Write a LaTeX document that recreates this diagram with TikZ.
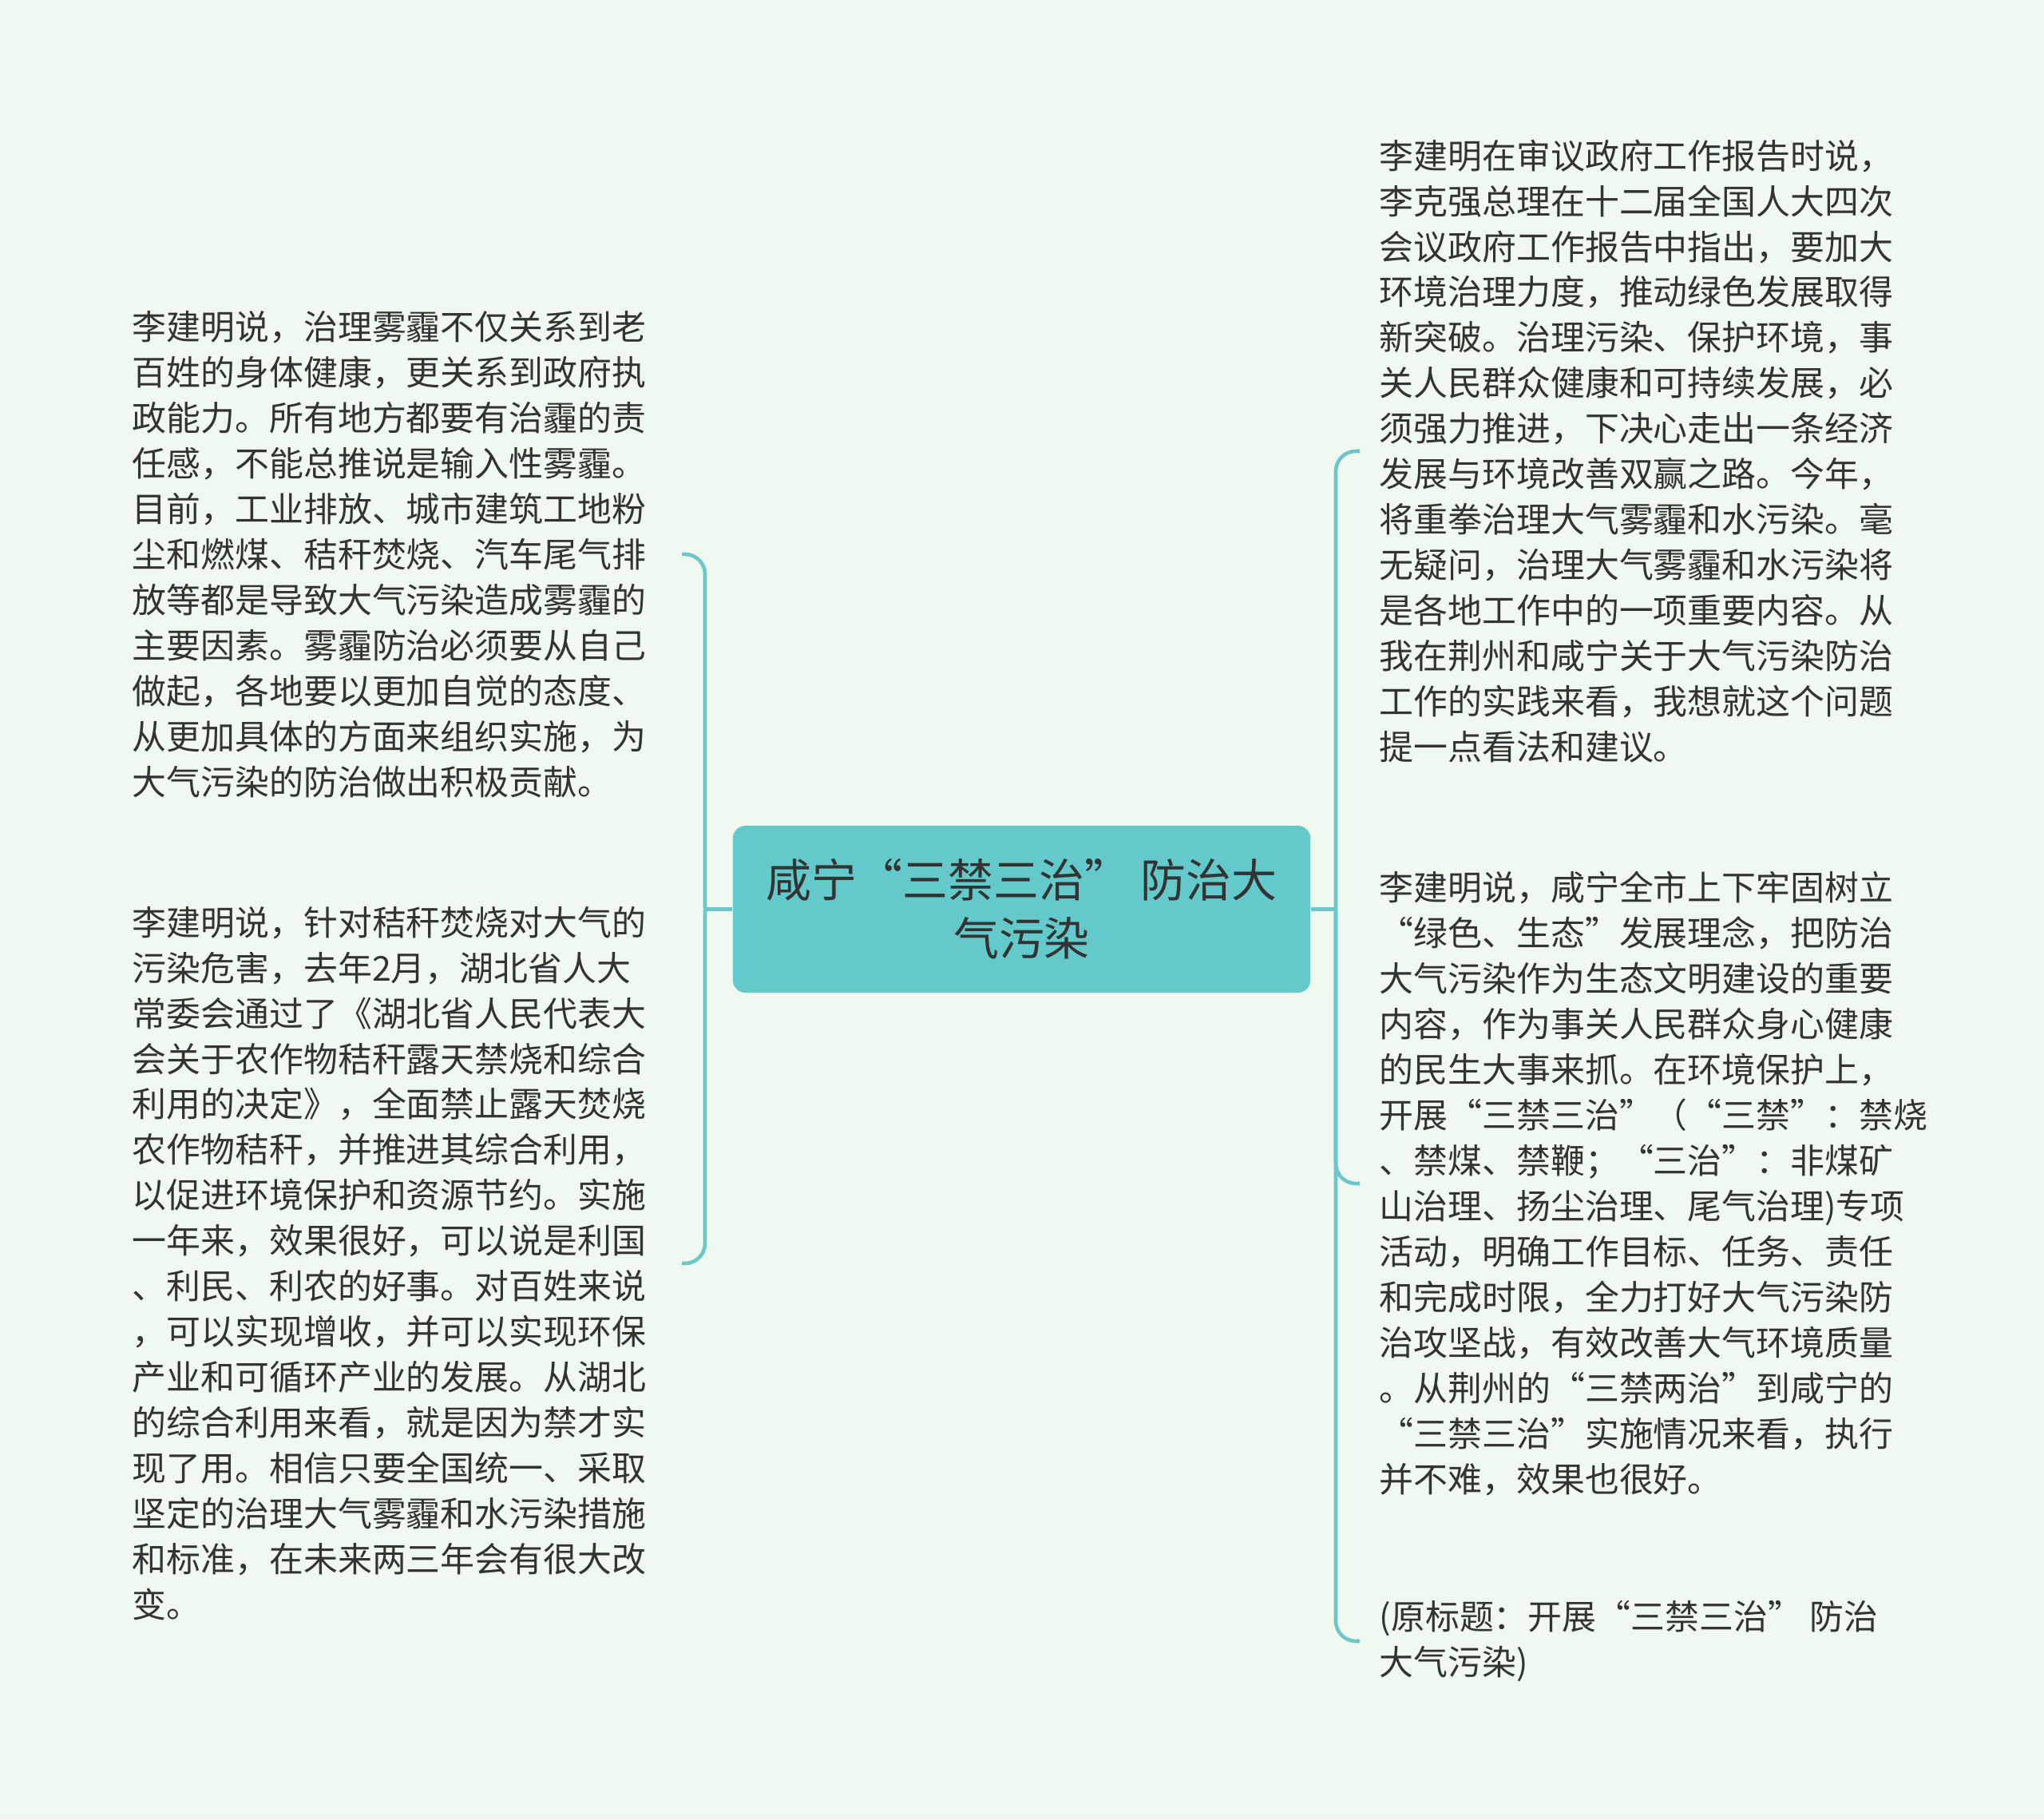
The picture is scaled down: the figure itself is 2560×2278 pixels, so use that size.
\documentclass[tikz,border=0pt]{standalone}
\usepackage{fontspec}
\setmainfont{Noto Sans CJK SC}
\usetikzlibrary{positioning, calc}
\definecolor{cbg}{HTML}{F0F9EF}
\definecolor{cteal}{HTML}{63C9CB}
\definecolor{cline}{HTML}{6CC6CA}
\definecolor{ctext}{HTML}{333333}
\tikzset{
  every picture/.style={x=0.01cm, y=-0.01cm},
  root/.style={fill=cteal, rounded corners=1.6mm, minimum width=7.23cm, minimum height=2.09cm, align=center, text=ctext, font=\fontsize{16.2pt}{20.8pt}\selectfont},
  leaf/.style={align=left, inner sep=0pt, text=ctext, font=\fontsize{12.2pt}{16.2pt}\selectfont},
  link/.style={draw=cline, line width=1.3pt, rounded corners=2.5mm},
}

\begin{document}
\begin{tikzpicture}
  \fill[cbg] (0,0) rectangle (2560,2278);
  \useasboundingbox (0,0) rectangle (2560,2278);
  % centre topic
  \node[root] (root) at (1279.5,1138.5) {咸宁“三禁三治” 防治大\\气污染};
  % left side
  \node[leaf, anchor=west] (l1) at (165,694) {李建明说，治理雾霾不仅关系到老\\百姓的身体健康，更关系到政府执\\政能力。所有地方都要有治霾的责\\任感，不能总推说是输入性雾霾。\\目前，工业排放、城市建筑工地粉\\尘和燃煤、秸秆焚烧、汽车尾气排\\放等都是导致大气污染造成雾霾的\\主要因素。雾霾防治必须要从自己\\做起，各地要以更加自觉的态度、\\从更加具体的方面来组织实施，为\\大气污染的防治做出积极贡献。};
  \node[leaf, anchor=west] (l2) at (165,1582) {李建明说，针对秸秆焚烧对大气的\\污染危害，去年2月，湖北省人大\\常委会通过了《湖北省人民代表大\\会关于农作物秸秆露天禁烧和综合\\利用的决定》，全面禁止露天焚烧\\农作物秸秆，并推进其综合利用，\\以促进环境保护和资源节约。实施\\一年来，效果很好，可以说是利国\\、利民、利农的好事。对百姓来说\\，可以实现增收，并可以实现环保\\产业和可循环产业的发展。从湖北\\的综合利用来看，就是因为禁才实\\现了用。相信只要全国统一、采取\\坚定的治理大气雾霾和水污染措施\\和标准，在未来两三年会有很大改\\变。};
  % right side
  \node[leaf, anchor=west] (r1) at (1727,565) {李建明在审议政府工作报告时说，\\李克强总理在十二届全国人大四次\\会议政府工作报告中指出，要加大\\环境治理力度，推动绿色发展取得\\新突破。治理污染、保护环境，事\\关人民群众健康和可持续发展，必\\须强力推进，下决心走出一条经济\\发展与环境改善双赢之路。今年，\\将重拳治理大气雾霾和水污染。毫\\无疑问，治理大气雾霾和水污染将\\是各地工作中的一项重要内容。从\\我在荆州和咸宁关于大气污染防治\\工作的实践来看，我想就这个问题\\提一点看法和建议。};
  \node[leaf, anchor=west] (r2) at (1727,1482) {李建明说，咸宁全市上下牢固树立\\“绿色、生态”发展理念，把防治\\大气污染作为生态文明建设的重要\\内容，作为事关人民群众身心健康\\的民生大事来抓。在环境保护上，\\开展“三禁三治”（“三禁”：禁烧\\、禁煤、禁鞭；“三治”：非煤矿\\山治理、扬尘治理、尾气治理)专项\\活动，明确工作目标、任务、责任\\和完成时限，全力打好大气污染防\\治攻坚战，有效改善大气环境质量\\。从荆州的“三禁两治”到咸宁的\\“三禁三治”实施情况来看，执行\\并不难，效果也很好。};
  \node[leaf, anchor=west] (r3) at (1727,2055) {(原标题：开展“三禁三治” 防治\\大气污染)};
  % connectors
  \coordinate (jl) at (883,1138.5);
  \coordinate (jr) at (1673,1138.5);
  \draw[link] (root.west) -- (jl);
  \draw[link] (root.east) -- (jr);
  \foreach \n in {l1,l2} \draw[link] (jl) |- (854,0 |- \n.east);
  \foreach \n in {r1,r2,r3} \draw[link] (jr) |- (1703,0 |- \n.west);
\end{tikzpicture}
\end{document}
